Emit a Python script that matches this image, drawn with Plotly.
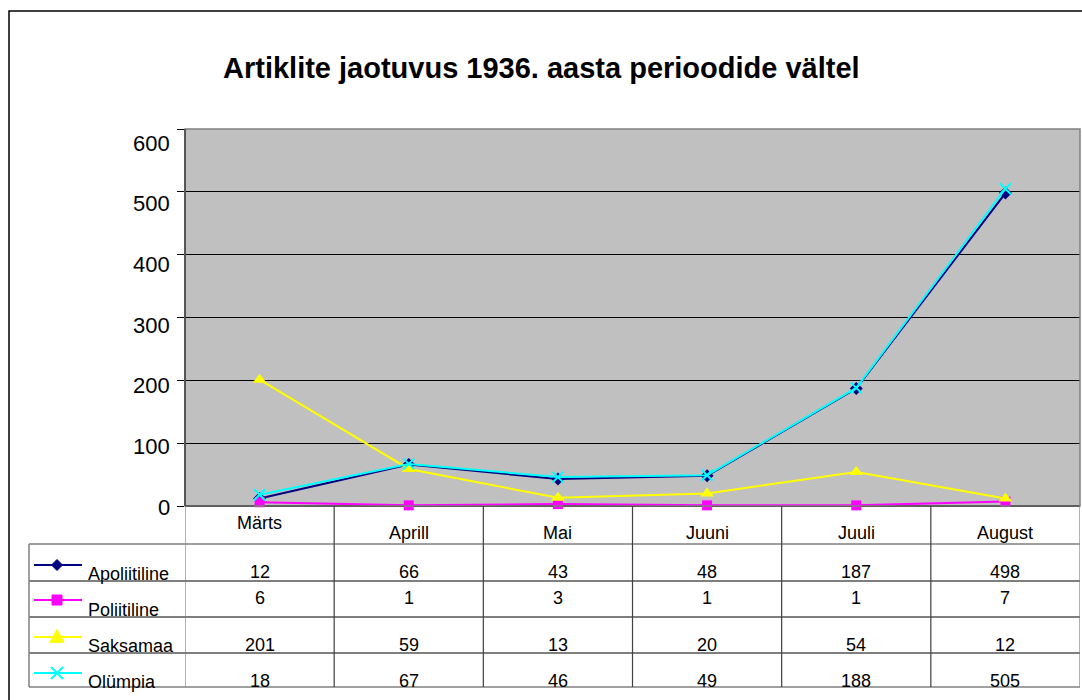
import plotly.graph_objects as go

W, H = 1082, 700

months = ["Märts", "Aprill", "Mai", "Juuni", "Juuli", "August"]
series_names = ["Apoliitiline", "Poliitiline", "Saksamaa", "Olümpia"]
apoliitiline = [12, 66, 43, 48, 187, 498]
poliitiline = [6, 1, 3, 1, 1, 7]
saksamaa = [201, 59, 13, 20, 54, 12]
olympia = [18, 67, 46, 49, 188, 505]
y_ticks = [0, 100, 200, 300, 400, 500, 600]
title_text = "Artiklite jaotuvus 1936. aasta perioodide vältel"

series_values = [apoliitiline, poliitiline, saksamaa, olympia]
colors = ["#000080", "#FF00FF", "#FFFF00", "#00FFFF"]
symbols = ["diamond", "square", "triangle-up", "x-thin-open"]
msizes = [10, 10, 12, 11]

FONT = "Liberation Sans, Arial, sans-serif"
TABLE_FONT = 18


def px(x):
    return x / W


def py(y):
    return 1 - y / H


plot_left, plot_right, plot_top, plot_bottom = 185, 1080, 129, 506

fig = go.Figure()

for name, vals, c, s, ms in zip(series_names, series_values, colors, symbols, msizes):
    marker = dict(symbol=s, size=ms, color=c)
    if s.startswith("x-thin"):
        marker["line"] = dict(color=c, width=2)
    fig.add_trace(go.Scatter(
        x=months, y=vals, mode="lines+markers", name=name,
        line=dict(color=c, width=2), marker=marker,
        cliponaxis=False, showlegend=False,
    ))

row_tops = [544, 581, 617, 653]
row_bottom = 687
key_y = [565, 600, 637, 673]
label_y = [574, 610, 646, 682]
value_y = [572, 598, 645, 681]

shapes = []
# outer chart border
shapes.append(dict(type="rect", xref="paper", yref="paper",
                   x0=px(9), x1=px(1095), y0=py(715), y1=py(11),
                   line=dict(color="#000000", width=1.5)))
# plot area border
shapes.append(dict(type="rect", xref="x domain", yref="y domain",
                   x0=0, x1=1, y0=0, y1=1, line=dict(color="#808080", width=1.5),
                   layer="above"))
shapes.append(dict(type="line", xref="x domain", yref="y domain",
                   x0=0, x1=0, y0=0, y1=1, line=dict(color="#404040", width=1.5),
                   layer="above"))
# table horizontal lines
for i, yt in enumerate(row_tops):
    shapes.append(dict(type="line", xref="paper", yref="paper",
                       x0=px(29), x1=px(plot_right), y0=py(yt), y1=py(yt),
                       line=dict(color="#000000" if i else "#404040", width=1.2)))
shapes.append(dict(type="line", xref="paper", yref="paper",
                   x0=px(29), x1=px(plot_right), y0=py(row_bottom), y1=py(row_bottom),
                   line=dict(color="#808080", width=1.5)))
shapes.append(dict(type="line", xref="paper", yref="paper",
                   x0=px(29), x1=px(29), y0=py(row_tops[0]), y1=py(row_bottom),
                   line=dict(color="#808080", width=1.5)))
# table vertical lines at category boundaries
for k in range(len(months) + 1):
    shapes.append(dict(type="line", xref="x", yref="paper",
                       x0=k - 0.5, x1=k - 0.5, y0=py(plot_bottom), y1=py(row_bottom),
                       line=dict(color="#404040" if 0 < k < len(months) else "#808080", width=1.2)))


# legend key glyphs (line + marker) in the table's first column
def marker_path(sym, cx, cy, r):
    X = lambda v: px(v)
    Y = lambda v: py(v)
    if sym == "diamond":
        pts = [(cx, cy - r), (cx + r, cy), (cx, cy + r), (cx - r, cy)]
    elif sym == "square":
        pts = [(cx - r, cy - r), (cx + r, cy - r), (cx + r, cy + r), (cx - r, cy + r)]
    elif sym == "triangle-up":
        pts = [(cx, cy - r * 1.1), (cx + r, cy + r * 0.75), (cx - r, cy + r * 0.75)]
    else:
        return ("M{},{}L{},{}M{},{}L{},{}".format(
            X(cx - r), Y(cy - r), X(cx + r), Y(cy + r),
            X(cx - r), Y(cy + r), X(cx + r), Y(cy - r)))
    return "M" + "L".join("{},{}".format(X(a), Y(b)) for a, b in pts) + "Z"


for i, (c, s) in enumerate(zip(colors, symbols)):
    shapes.append(dict(type="line", xref="paper", yref="paper",
                       x0=px(34), x1=px(82), y0=py(key_y[i]), y1=py(key_y[i]),
                       line=dict(color=c, width=2)))
    r = {"diamond": 5.5, "square": 5, "triangle-up": 7, "x-thin-open": 6}[s]
    if s == "x-thin-open":
        shapes.append(dict(type="path", xref="paper", yref="paper",
                           path=marker_path(s, 57, key_y[i], r),
                           line=dict(color=c, width=2)))
    else:
        shapes.append(dict(type="path", xref="paper", yref="paper",
                           path=marker_path(s, 57, key_y[i], r),
                           line=dict(color=c, width=1), fillcolor=c))

annotations = []
# y tick labels (Excel draws them slightly spread below the gridlines)
lab_top, lab_bottom = 143, 507
for i, t in enumerate(y_ticks):
    yy = lab_bottom - (lab_bottom - lab_top) * i / (len(y_ticks) - 1)
    annotations.append(dict(x=px(172), xref="paper", y=py(yy), yref="paper",
                            text=str(t), showarrow=False, xanchor="right",
                            yanchor="middle",
                            font=dict(family=FONT, size=22, color="#000000")))
for k, m in enumerate(months):
    annotations.append(dict(x=m, xref="x", y=py(523 if k == 0 else 533), yref="paper",
                            text=m, showarrow=False, yanchor="middle",
                            font=dict(family=FONT, size=TABLE_FONT, color="#000000")))
for i, vals in enumerate(series_values):
    for m, v in zip(months, vals):
        annotations.append(dict(x=m, xref="x", y=py(value_y[i]), yref="paper",
                                text=str(v), showarrow=False, yanchor="middle",
                                font=dict(family=FONT, size=TABLE_FONT, color="#000000")))
    annotations.append(dict(x=px(86), xref="paper", y=py(label_y[i]), yref="paper",
                            text=series_names[i], showarrow=False, xanchor="left",
                            yanchor="middle",
                            font=dict(family=FONT, size=TABLE_FONT, color="#000000")))
annotations.append(dict(x=px(541), xref="paper", y=py(68), yref="paper",
                        text="<b>" + title_text + "</b>", showarrow=False,
                        yanchor="middle",
                        font=dict(family=FONT, size=29, color="#000000")))

fig.update_layout(
    width=W, height=H, margin=dict(l=0, r=0, t=0, b=0),
    paper_bgcolor="#FFFFFF", plot_bgcolor="#C0C0C0",
    xaxis=dict(type="category", categoryarray=months, range=[-0.5, 5.5],
               domain=[px(plot_left), px(plot_right)], showticklabels=False,
               showgrid=False, zeroline=False, showline=False, ticks=""),
    yaxis=dict(range=[0, 600], tickvals=y_ticks, domain=[py(plot_bottom), py(plot_top)],
               showgrid=True, gridcolor="#000000", gridwidth=1,
               zeroline=True, zerolinecolor="#000000", zerolinewidth=1.5,
               showline=False, ticks="outside", ticklen=7, tickcolor="#000000",
               showticklabels=False),
    shapes=shapes, annotations=annotations, showlegend=False,
)

fig.write_html(
    "out.html",
    config={"displayModeBar": False},
    post_script=(
        "document.documentElement.style.margin='0';"
        "document.body.style.margin='0';document.body.style.overflow='hidden';"
        "var gd=document.getElementById('{plot_id}');"
        "gd.style.position='absolute';gd.style.left='0px';gd.style.top='0px';"
    ),
)
